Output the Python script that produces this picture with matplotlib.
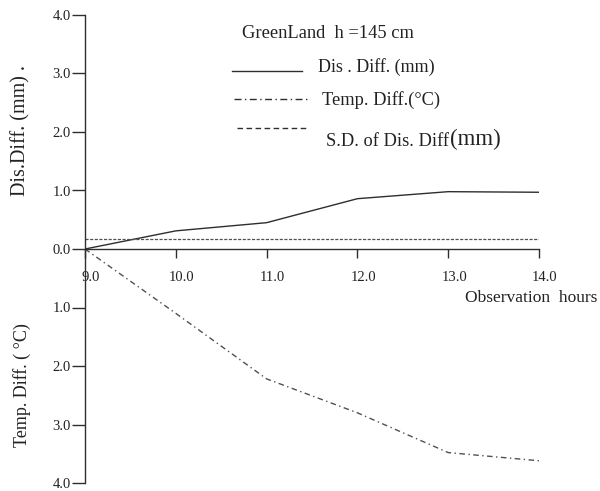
import matplotlib
matplotlib.use("Agg")
import matplotlib.pyplot as plt
from matplotlib.lines import Line2D
from matplotlib.transforms import ScaledTranslation

plt.rcParams['font.family'] = ['Liberation Serif', 'DejaVu Serif']

hours = [9.0, 10.0, 11.0, 12.0, 13.0, 14.0]
dis_diff = [0.0, 0.31, 0.45, 0.86, 0.98, 0.97]
temp_diff = [0.0, 1.10, 2.22, 2.80, 3.48, 3.62]
sd_dis_diff = [0.17, 0.17, 0.17, 0.17, 0.17, 0.17]

x_ticks = [9.0, 10.0, 11.0, 12.0, 13.0, 14.0]
x_tick_labels = ['9.0', '10.0', '11.0', '12.0', '13.0', '14.0']
upper_ticks = [4.0, 3.0, 2.0, 1.0, 0.0]
lower_ticks = [1.0, 2.0, 3.0, 4.0]

W, H = 600, 491
fig = plt.figure(figsize=(6.0, 4.91), dpi=100)
fig.patch.set_facecolor('white')

def fx(px):
    return px / W

def fy(py):
    return 1 - py / H

ax = fig.add_axes([fx(85), fy(483), fx(539) - fx(85), fy(15) - fy(483)])
ax.set_xlim(9.0, 14.0)
ax.set_ylim(-4.0, 4.0)
ax.patch.set_alpha(0)

ink = '#2e2e2e'
ax.plot(hours, dis_diff, color=ink, lw=1.0, solid_joinstyle='round')
ax.plot(hours, [-v for v in temp_diff], color='#505050', lw=1.0,
        dashes=(4, 2.5, 1, 2.5), clip_on=False)
ax.plot(hours, sd_dis_diff, color='#505050', lw=0.9, dashes=(2.5, 1.2))

for s in ['top', 'right']:
    ax.spines[s].set_visible(False)
ax.spines['left'].set_color(ink)
ax.spines['left'].set_linewidth(1.0)
ax.spines['bottom'].set_position(('data', 0))
ax.spines['bottom'].set_color(ink)
ax.spines['bottom'].set_linewidth(1.0)

yt = upper_ticks + [-v for v in lower_ticks]
ytl = ['%.1f' % v for v in upper_ticks] + ['%.1f' % v for v in lower_ticks]
ax.set_yticks(yt)
ax.set_yticklabels(ytl)
ax.tick_params(axis='y', direction='out', length=9.5, width=1.0, color=ink,
               pad=0.5, labelsize=10.5, labelcolor='#222222')
ax.set_xticks(x_ticks)
ax.set_xticklabels(x_tick_labels)
ax.tick_params(axis='x', direction='out', length=6.5, width=1.0, color=ink,
               pad=9, labelsize=10.5, labelcolor='#222222')
shift = ScaledTranslation(6 / 100, 0, fig.dpi_scale_trans)
for lab in ax.get_xticklabels():
    lab.set_transform(lab.get_transform() + shift)

# x-axis title
fig.text(fx(597), fy(298), 'Observation  hours', ha='right', va='center',
         fontsize=12.5, color='#222222')
# y-axis titles
fig.text(fx(21), fy(131), 'Dis.Diff. (mm) .', rotation=90, ha='center',
         va='center', fontsize=14.5, color='#222222')
fig.text(fx(22), fy(385), 'Temp. Diff. ( °C)', rotation=90, ha='center',
         va='center', fontsize=13, color='#222222')

# legend block
fig.text(fx(242), fy(33), 'GreenLand  h =145 cm', ha='left', va='center',
         fontsize=13.3, color='#222222')
fig.add_artist(Line2D([fx(232), fx(302)], [fy(71), fy(71)], color=ink, lw=1.0))
fig.text(fx(318), fy(67), 'Dis . Diff. (mm)', ha='left', va='center',
         fontsize=13, color='#222222')
fig.add_artist(Line2D([fx(234), fx(308)], [fy(99), fy(99)], color=ink, lw=1.0,
                      dashes=(5, 2.5, 1, 2.5)))
fig.text(fx(322), fy(100), 'Temp. Diff.(°C)', ha='left', va='center',
         fontsize=13.2, color='#222222')
fig.add_artist(Line2D([fx(237), fx(308)], [fy(128), fy(128)], color=ink, lw=1.0,
                      dashes=(4, 2.5)))
fig.text(fx(326), fy(141), 'S.D. of Dis. Diff', ha='left', va='center',
         fontsize=13.2, color='#222222')
fig.text(fx(450), fy(139), '(mm)', ha='left', va='center',
         fontsize=16.5, color='#222222')

fig.savefig('out.png', dpi=100, facecolor='white')
